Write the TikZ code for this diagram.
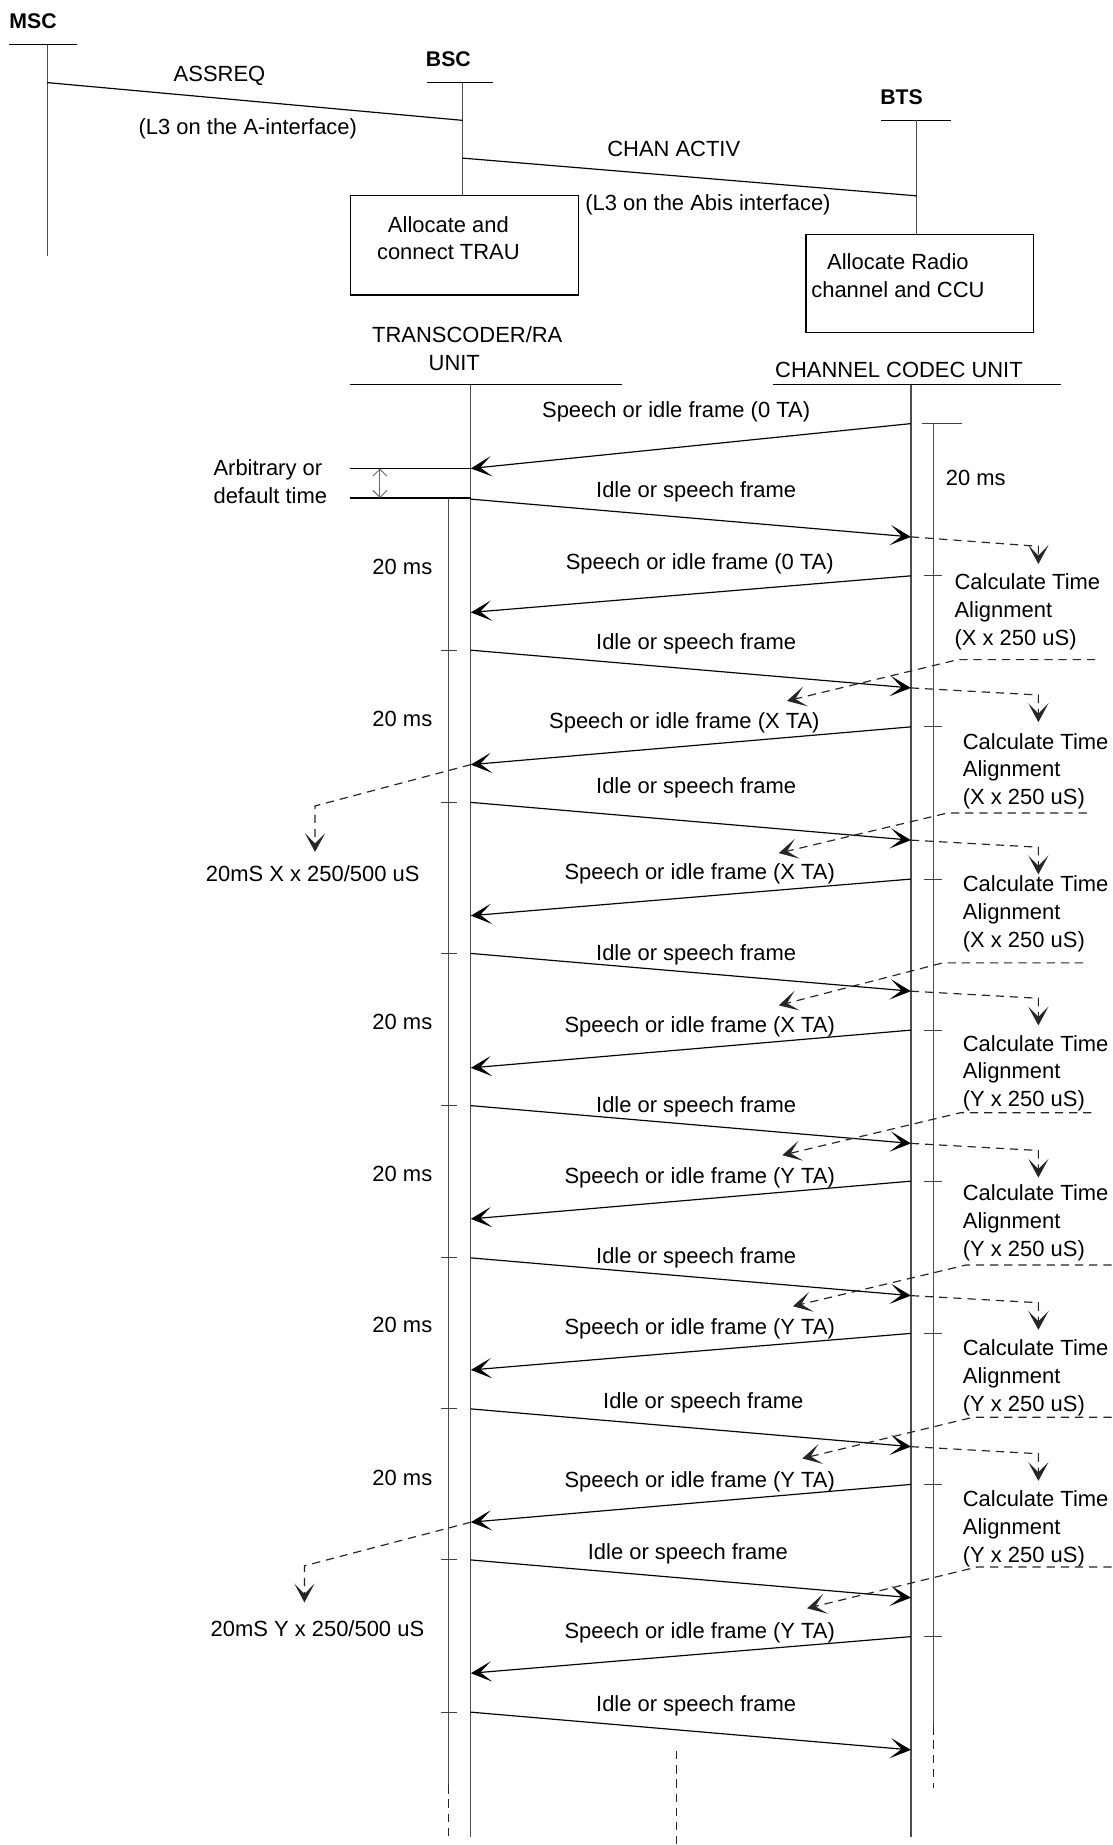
\documentclass[tikz,border=0pt]{standalone}
\usepackage{fontspec}
\setmainfont{Liberation Sans}
\usetikzlibrary{arrows.meta}
\begin{document}
\begin{tikzpicture}[x=0.5pt,y=-0.5pt,
  every node/.style={inner sep=0pt,outer sep=0pt,font=\fontsize{9.3}{11.75}\selectfont},
  sl/.style={text height=6.66pt,text depth=0pt},
  hd/.style={font=\fontsize{9}{11}\selectfont\bfseries,text height=6.45pt,text depth=0pt},
  ln/.style={line width=0.5pt,draw=black},
  life/.style={line width=0.55pt,draw=black!70},
  tk/.style={line width=0.45pt,draw=black!75},
  msg/.style={line width=0.5pt,draw=black,-{Stealth[length=8.8pt,width=8.6pt,inset=4.8pt]}},
  dsh/.style={line width=0.5pt,draw=black!85,dash pattern=on 3.5pt off 2.5pt},
  fb/.style={dsh,-{Stealth[length=8pt,width=8.6pt,inset=4.4pt]}},
  procbox/.style={draw=black,line width=0.5pt,minimum width=96.5pt,minimum height=42pt},
  dbl/.style={line width=0.4pt,draw=black!60,{Straight Barb[length=3pt,width=6pt]}-{Straight Barb[length=3pt,width=6pt]}},
]
\fill[white] (0,0) rectangle (942.4,1563.6);
\useasboundingbox (0,0) rectangle (942.4,1563.6);

%% ---------- top part ----------
\node[hd] (msc) at (28,18) {MSC};
\coordinate (mscHL) at (8,38); \coordinate (mscHR) at (65,38);
\draw[ln] (mscHL) -- (mscHR);
\coordinate (mscT) at (40,38); \coordinate (mscB) at (40,217);
\draw[life] (mscT) -- (mscB);

\node[hd] (bsc) at (380,50) {BSC};
\coordinate (bscHL) at (362,70); \coordinate (bscHR) at (418,70);
\draw[ln] (bscHL) -- (bscHR);
\coordinate (bscT) at (392,70);

\node[hd] (bts) at (764,82) {BTS};
\coordinate (btsHL) at (747,102); \coordinate (btsHR) at (806,102);
\draw[ln] (btsHL) -- (btsHR);
\coordinate (btsT) at (777,102);

\node[procbox] (trauBox) at (393.5,208) {};
\node[procbox,minimum height=41.5pt] (radioBox) at (779.5,240.5) {};
\draw[life] (bscT) -- (bscT |- trauBox.north);
\draw[life] (btsT) -- (btsT |- radioBox.north);
\node[align=center,anchor=north] (trauTxt) at (380,183.3) {Allocate and\\connect TRAU};
\node[align=center,anchor=north] (radioTxt) at (761,215.3) {Allocate Radio\\channel and CCU};

\coordinate (assA) at (40,70); \coordinate (assB) at (392,102);
\draw[ln] (assA) -- (assB);
\node[sl] (assreq) at (186,62) {ASSREQ};
\node[sl] (l3a) at (210,107) {(L3 on the A-interface)};

\coordinate (chA) at (392,134); \coordinate (chB) at (777,166);
\draw[ln] (chA) -- (chB);
\node[sl] (chan) at (571,126) {CHAN ACTIV};
\node[sl] (l3abis) at (600,172) {(L3 on the Abis interface)};

%% ---------- units ----------
\node[sl] (trA) at (396,284) {TRANSCODER/RA};
\node[sl] (trB) at (385,307) {UNIT};
\node[sl,anchor=west] (ccu) at (657,313) {CHANNEL CODEC UNIT};
\coordinate (trHL) at (297,326); \coordinate (trHR) at (527,326);
\coordinate (ccHL) at (655,326); \coordinate (ccHR) at (899,326);
\draw[ln] (trHL) -- (trHR);
\draw[ln] (ccHL) -- (ccHR);

\coordinate (trT) at (399,326); \coordinate (trBot) at (399,1557);
\coordinate (ccT) at (772,326); \coordinate (ccBot) at (772,1557);
\draw[life] (trT) -- (trBot);
\draw[life] (ccT) -- (ccBot);

\coordinate (tlT) at (380,422); \coordinate (tlM) at (380,1513); \coordinate (tlB) at (380,1557);
\draw[life] (tlT) -- (tlM); \draw[dsh] (tlM) -- (tlB);
\coordinate (ctT) at (791,359); \coordinate (ctM) at (791,1463); \coordinate (ctB) at (791,1515);
\draw[life] (ctT) -- (ctM); \draw[dsh] (ctM) -- (ctB);
\coordinate (midT) at (573,1484); \coordinate (midB) at (573,1563.6);
\draw[dsh] (midT) -- (midB);

%% ---------- arbitrary time ----------
\coordinate (arbA1) at (297,397); \coordinate (arbA2) at (399,397);
\coordinate (arbB1) at (297,422); \coordinate (arbB2) at (399,422);
\draw[ln] (arbA1) -- (arbA2);
\draw[ln] (arbB1) -- (arbB2);
\coordinate (dblT) at (322,397); \coordinate (dblB) at (322,422);
\draw[dbl] (dblT) -- (dblB);
\node[align=left,anchor=north west] (arb) at (181,389.3) {Arbitrary or\\default time};

%% ---------- ticks ----------
\coordinate (cka0) at (781,359); \coordinate (ckb0) at (815,359);
\draw[tk] (cka0) -- (ckb0);
\foreach \k/\y in {1/488,2/616,3/745,4/873,5/1001,6/1130,7/1258,8/1387}{
  \coordinate (cka\k) at (783,\y); \coordinate (ckb\k) at (798,\y);
  \draw[tk] (cka\k) -- (ckb\k);
}
\foreach \k/\y in {1/551,2/680,3/808,4/937,5/1066,6/1194,7/1322,8/1451}{
  \coordinate (tka\k) at (374,\y); \coordinate (tkb\k) at (387,\y);
  \draw[tk] (tka\k) -- (tkb\k);
}

%% ---------- 20 ms labels ----------
\foreach \k/\y in {1/480,2/609,3/866,4/995,5/1123,6/1252}{
  \node[sl] (ms\k) at (341,\y) {20 ms};
}
\node[sl] (ccms) at (827,405) {20 ms};

%% ---------- speech frames (CCU -> TRAU) ----------
\foreach \k/\ys/\ye/\lx/\ly/\ta in {
 0/359/397/573/347/0 TA,
 1/488/519/593/476/0 TA,
 2/616/648/580/611/X TA,
 3/745/776/593/739/X TA,
 4/873/905/593/868/X TA,
 5/1001/1033/593/996/Y TA,
 6/1130/1161/593/1124/Y TA,
 7/1258/1290/593/1254/Y TA,
 8/1387/1418/593/1382/Y TA}{
  \coordinate (sC\k) at (772,\ys);
  \coordinate (sT\k) at (399,\ye);
  \draw[msg] (sC\k) -- (sT\k);
  \node[sl] (sL\k) at (\lx,\ly) {Speech or idle frame (\ta)};
}

%% ---------- idle frames (TRAU -> CCU) ----------
\foreach \k/\ys/\ye/\lx/\ly in {
 1/423/455/590/415, 2/551/583/590/544, 3/680/712/590/666,
 4/808/840/590/807, 5/937/969/590/936, 6/1066/1098/590/1064,
 7/1194/1226/596/1187, 8/1322/1354/583/1315, 9/1451/1483/590/1444}{
  \coordinate (iT\k) at (399,\ys);
  \coordinate (iC\k) at (772,\ye);
  \draw[msg] (iT\k) -- (iC\k);
  \node[sl] (iL\k) at (\lx,\ly) {Idle or speech frame};
}

%% ---------- calculate time alignment ----------
\foreach \g/\cyo/\tyo/\tx/\ty/\vv in {
 1/463/478/809/493/X,
 2/589/612/816/628/X,
 3/718/741/816/749/X,
 4/846/869/816/884/Y,
 5/975/998/816/1011/Y,
 6/1104/1127/816/1142/Y,
 7/1232/1255/816/1270/Y}{
  \coordinate (cq\g) at (880,\cyo);
  \coordinate (cv\g) at (880,\tyo);
  \draw[fb] (iC\g) -- (cq\g) -- (cv\g);
  \node[align=left,anchor=north west] (calc\g) at (\tx,\ty-6.7) {Calculate Time\\Alignment\\(\vv{} x 250 uS)};
}

%% ---------- feedback of TA ----------
\foreach \g/\xr/\yh/\xc/\xt/\yt in {
 1/928/559/812/667/594,
 2/921/689/803/660/723,
 3/918/816/799/660/852,
 4/925/943/814/663/979,
 5/942/1072/819/672/1107,
 6/942/1201/825/680/1236,
 7/942/1328/828/684/1363}{
  \coordinate (fr\g) at (\xr,\yh);
  \coordinate (fc\g) at (\xc,\yh);
  \coordinate (ft\g) at (\xt,\yt);
  \draw[fb] (fr\g) -- (fc\g) -- (ft\g);
}

%% ---------- TRAU side adjustments ----------
\coordinate (lq1) at (267,683); \coordinate (lv1) at (267,722);
\draw[fb] (sT2) -- (lq1) -- (lv1);
\node[sl] (lx1) at (265,740) {20mS X x 250/500 uS};
\coordinate (lq2) at (258,1327); \coordinate (lv2) at (258,1358);
\draw[fb] (sT7) -- (lq2) -- (lv2);
\node[sl] (lx2) at (269,1380) {20mS Y x 250/500 uS};
\end{tikzpicture}
\end{document}
